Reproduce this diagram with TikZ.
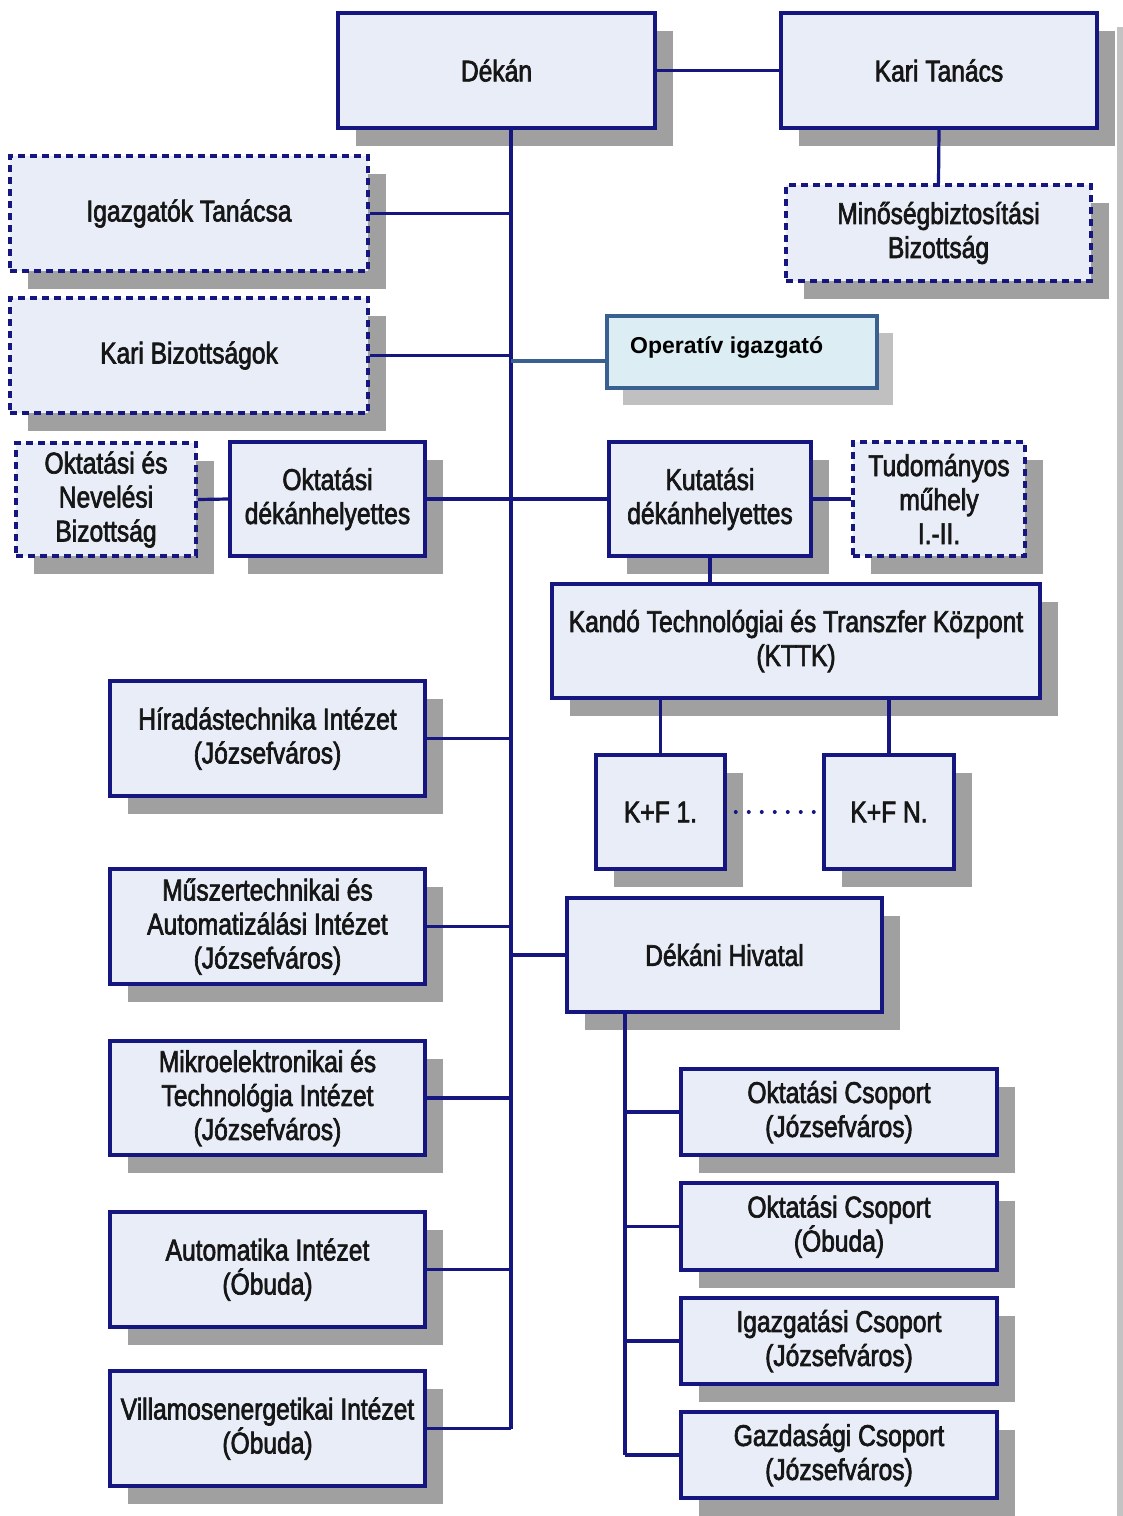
\documentclass[tikz,border=0pt]{standalone}
\usepackage{fontspec}
\setmainfont{Liberation Sans}[FakeStretch=0.82, FakeBold=2.2]
\newfontfamily\opfont{Liberation Sans}
\usetikzlibrary{shadows}
\definecolor{navy}{RGB}{22,22,128}
\definecolor{boxfill}{RGB}{233,237,248}
\definecolor{shade}{RGB}{160,160,160}
\definecolor{opline}{RGB}{58,96,146}
\definecolor{opfill}{RGB}{220,237,243}
\definecolor{opshade}{RGB}{192,192,192}
\definecolor{txt}{RGB}{22,22,22}
\definecolor{edgegrey}{RGB}{195,195,195}
\begin{document}
\begin{tikzpicture}[x=1pt,y=-1pt,
  box/.style={draw=navy, line width=3.5pt, fill=boxfill, inner sep=0pt, align=center,
    text=txt, font=\fontsize{30}{34}\selectfont,
    drop shadow={shadow xshift=18pt, shadow yshift=-18pt, fill=shade, opacity=1}},
  dbox/.style={box, dash pattern=on 7pt off 5pt},
  link/.style={draw=navy, line width=3.2pt},
  dotline/.style={draw=navy, line width=4pt, line cap=round, dash pattern=on 0pt off 13pt},
]
\useasboundingbox (0,0) rectangle (1123,1516);
\fill[white] (0,0) rectangle (1123,1516);
\fill[edgegrey] (1117,27) rectangle (1123,1516);

% top
\node[box, minimum width=317pt, minimum height=115pt] (dek) at (496.5,70.5) {Dékán};
\node[box, minimum width=316pt, minimum height=115pt] (kt) at (939,70.5) {Kari Tanács};
\node[dbox, minimum width=358pt, minimum height=115pt] (igt) at (189,213.5) {Igazgatók Tanácsa};
\node[dbox, minimum width=358pt, minimum height=115pt] (kb) at (189,355.5) {Kari Bizottságok};
\node[dbox, minimum width=305pt, minimum height=96pt] (mb) at (938.5,233) {Minőségbiztosítási\\Bizottság};
\node[draw=opline, line width=3.5pt, fill=opfill, inner sep=0pt, minimum width=270pt, minimum height=72pt,
  drop shadow={shadow xshift=16pt, shadow yshift=-17pt, fill=opshade, opacity=1}] (op) at (742,352) {};
\node[anchor=base west, inner sep=0pt, font=\opfont\bfseries\fontsize{23}{27}\selectfont, text=black] (optxt) at (630,353) {Operatív igazgató};

% deputies
\node[dbox, minimum width=180pt, minimum height=113pt] (onb) at (106,499.5) {Oktatási és\\Nevelési\\Bizottság};
\node[box, minimum width=195pt, minimum height=114pt] (okd) at (327.5,499) {Oktatási\\dékánhelyettes};
\node[box, minimum width=202pt, minimum height=114pt] (kud) at (710,499) {Kutatási\\dékánhelyettes};
\node[dbox, minimum width=172pt, minimum height=114pt] (tm) at (939,499) {Tudományos\\műhely\\I.-II.};
\node[box, minimum width=488pt, minimum height=114pt] (kttk) at (796,641) {Kandó Technológiai és Transzfer Központ\\(KTTK)};
\node[box, minimum width=129pt, minimum height=114pt] (kf1) at (660.5,812) {K+F 1.};
\node[box, minimum width=130pt, minimum height=114pt] (kfn) at (889,812) {K+F N.};
\node[box, minimum width=315pt, minimum height=114pt] (dh) at (724.5,955) {Dékáni Hivatal};

% institutes
\node[box, minimum width=315pt, minimum height=115pt] (hir) at (267.5,738.5) {Híradástechnika Intézet\\(Józsefváros)};
\node[box, minimum width=315pt, minimum height=115pt] (msz) at (267.5,926.5) {Műszertechnikai és\\Automatizálási Intézet\\(Józsefváros)};
\node[box, minimum width=315pt, minimum height=114pt] (mik) at (267.5,1098) {Mikroelektronikai és\\Technológia Intézet\\(Józsefváros)};
\node[box, minimum width=315pt, minimum height=115pt] (aut) at (267.5,1269.5) {Automatika Intézet\\(Óbuda)};
\node[box, minimum width=315pt, minimum height=115pt] (vil) at (267.5,1428.5) {Villamosenergetikai Intézet\\(Óbuda)};

% groups
\node[box, minimum width=316pt, minimum height=86pt] (oc1) at (839,1112) {Oktatási Csoport\\(Józsefváros)};
\node[box, minimum width=316pt, minimum height=87pt] (oc2) at (839,1226.5) {Oktatási Csoport\\(Óbuda)};
\node[box, minimum width=316pt, minimum height=86pt] (ic) at (839,1341) {Igazgatási Csoport\\(Józsefváros)};
\node[box, minimum width=316pt, minimum height=86pt] (gc) at (839,1455) {Gazdasági Csoport\\(Józsefváros)};

% connectors
\coordinate (tr) at (511,0);
\coordinate (hv) at (625,0);
\draw[link] (dek.east) -- (kt.west);
\draw[link] (kt.south) -- (mb.north);
\draw[link] (dek.south -| tr) -- (vil.east -| tr);
\draw[link] (igt.east) -- (igt.east -| tr);
\draw[link] (kb.east) -- (kb.east -| tr);
\draw[draw=opline, line width=3.2pt] ([yshift=-9pt]op.west -| tr) -- ([yshift=-9pt]op.west);
\draw[link] (onb.east) -- (okd.west);
\draw[link] (okd.east) -- (kud.west);
\draw[link] (kud.east) -- (tm.west);
\draw[link] (kud.south) -- (kud.south |- kttk.north);
\draw[link] (kf1.north) -- (kf1.north |- kttk.south);
\draw[link] (kfn.north) -- (kfn.north |- kttk.south);
\draw[dotline] ([xshift=9pt]kf1.east) -- ([xshift=-7pt]kfn.west);
\draw[link] (hir.east) -- (hir.east -| tr);
\draw[link] (msz.east) -- (msz.east -| tr);
\draw[link] (mik.east) -- (mik.east -| tr);
\draw[link] (aut.east) -- (aut.east -| tr);
\draw[link] (vil.east) -- (vil.east -| tr);
\draw[link] (dh.west) -- (dh.west -| tr);
\draw[link] (dh.south -| hv) -- (gc.west -| hv);
\draw[link] (oc1.west -| hv) -- (oc1.west);
\draw[link] (oc2.west -| hv) -- (oc2.west);
\draw[link] (ic.west -| hv) -- (ic.west);
\draw[link] (gc.west -| hv) -- (gc.west);
\end{tikzpicture}
\end{document}
